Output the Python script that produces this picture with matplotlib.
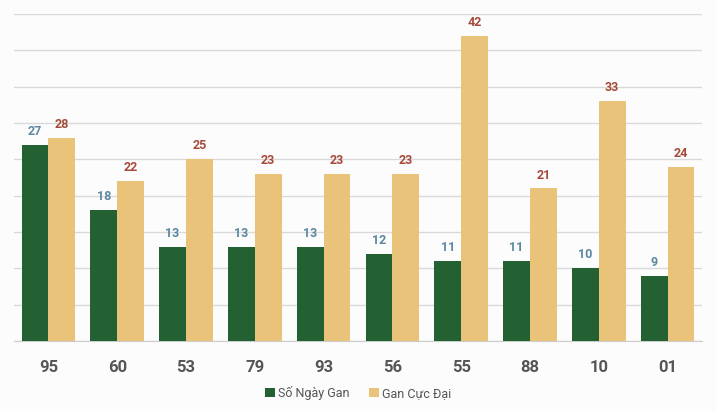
import numpy as np
import matplotlib.pyplot as plt

plt.rcParams['font.family'] = ['Roboto', 'DejaVu Sans']

numbers = ['95', '60', '53', '79', '93', '56', '55', '88', '10', '01']
so_ngay_gan = [27, 18, 13, 13, 13, 12, 11, 11, 10, 9]
gan_cuc_dai = [28, 22, 25, 23, 23, 23, 42, 21, 33, 24]

green = '#236132'
tan = '#e9c37a'
bg = '#fcfcfc'

fig = plt.figure(figsize=(7.16, 4.11), dpi=100, facecolor=bg)
ax = fig.add_axes([0.0196, 0.170, 0.9608, 0.796])
ax.set_facecolor(bg)

x = np.arange(len(numbers))
w = 0.39
b1 = ax.bar(x - w / 2, so_ngay_gan, w, color=green, label='Số Ngày Gan', zorder=3)
b2 = ax.bar(x + w / 2, gan_cuc_dai, w, color=tan, label='Gan Cực Đại', zorder=3)

for rect, v in zip(b1, so_ngay_gan):
    ax.annotate(str(v), (rect.get_x() + rect.get_width() / 2, v), xytext=(0, 5),
                textcoords='offset points', ha='center', va='bottom',
                fontsize=9, fontweight='bold', color='#5b88a0')
for rect, v in zip(b2, gan_cuc_dai):
    ax.annotate(str(v), (rect.get_x() + rect.get_width() / 2, v), xytext=(0, 5),
                textcoords='offset points', ha='center', va='bottom',
                fontsize=9, fontweight='bold', color='#a54a3a')

ax.set_xlim(-0.5, len(numbers) - 0.5)
ax.set_ylim(0, 45)
ax.set_yticks(np.arange(0, 46, 5))
ax.yaxis.grid(True, color='#d9d9d9', linewidth=1, zorder=0)
ax.tick_params(axis='y', left=False, labelleft=False)
ax.tick_params(axis='x', bottom=False, pad=10)
ax.set_xticks(x)
ax.set_xticklabels(numbers, fontsize=12, fontweight='bold', color='#555555')
for s in ['top', 'right', 'left']:
    ax.spines[s].set_visible(False)
ax.spines['bottom'].set_color('#cccccc')

fig.legend(loc='lower center', bbox_to_anchor=(0.5, 0.0), ncol=2, frameon=False,
           fontsize=9, handlelength=0.8, handleheight=0.8, handletextpad=0.3,
           columnspacing=1.5, labelcolor='#555555')

fig.savefig('out.png', dpi=100, facecolor=bg)
